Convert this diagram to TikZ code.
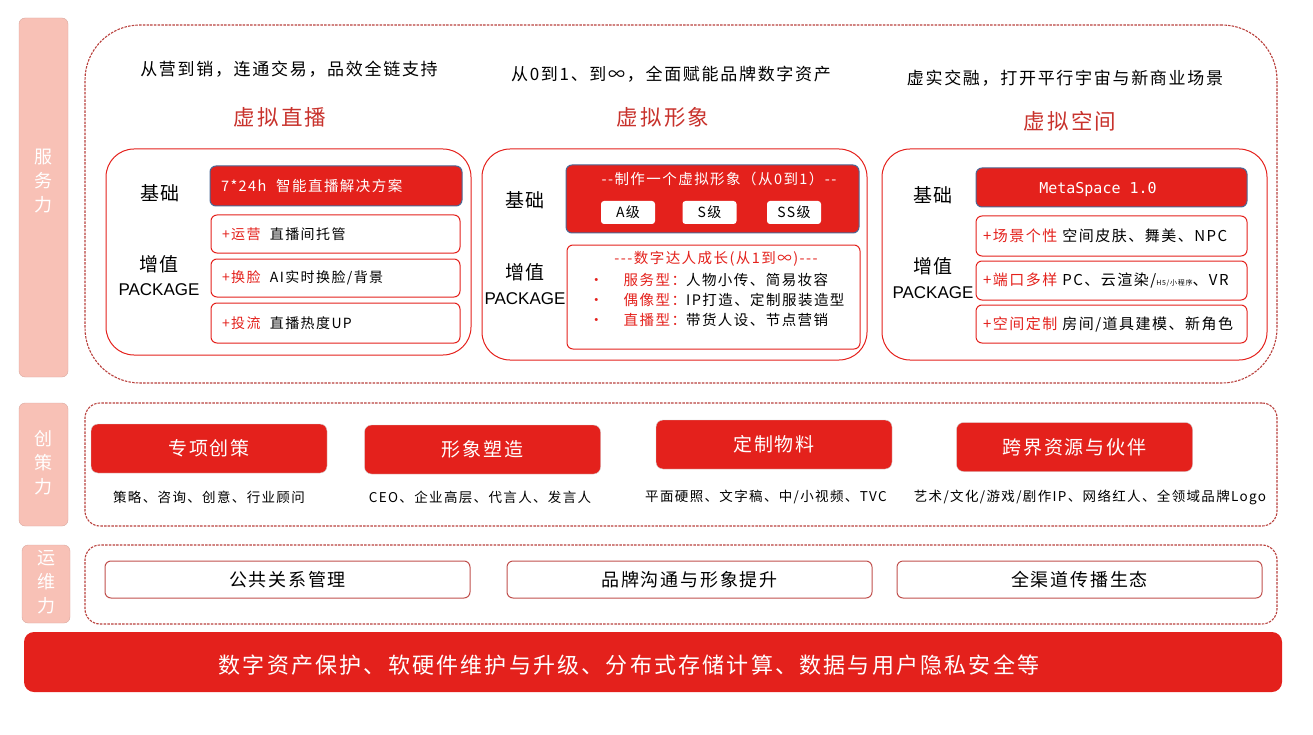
\documentclass[tikz,border=0pt]{standalone}
\usepackage{fontspec}
\setmainfont{Noto Sans CJK SC}[LetterSpace=10]
\setmonofont{DejaVu Sans Mono}
\newfontfamily\latinsans{Liberation Sans}
\usepackage{tikz}
\usetikzlibrary{positioning}
\definecolor{brandred}{HTML}{E4211C}
\definecolor{titlered}{HTML}{C8322C}
\definecolor{dashred}{HTML}{B9413D}
\definecolor{opsedge}{HTML}{C0504D}
\definecolor{sidepink}{HTML}{F8C1B6}
\definecolor{sideedge}{HTML}{D9A9A0}
\definecolor{slateedge}{HTML}{4A6895}
\newcommand{\fsz}[1]{\fontsize{#1}{#1}\selectfont}

\begin{document}
\begin{tikzpicture}[
  x=1pt, y=-1pt,
  every node/.style={inner sep=0pt},
  sidebox/.style={draw=sideedge, fill=sidepink, rounded corners=6pt, minimum width=49pt},
  sidetext/.style={text=white, align=center, font=\fontsize{18}{24}\selectfont},
  zone/.style={draw=dashred, dash pattern=on 2.5pt off 1.2pt, line width=1.1pt, minimum width=1192pt},
  subtitle/.style={font=\fsz{17}},
  heading/.style={font=\fsz{21.5}, text=titlered},
  panel/.style={draw=brandred, line width=1pt, rounded corners=28pt},
  tier/.style={font=\fsz{19}},
  pkg/.style={font=\latinsans\fsz{17}},
  basebox/.style={draw=slateedge, fill=brandred, line width=1pt, rounded corners=6pt, text=white},
  addbox/.style={draw=brandred, fill=white, line width=1pt, rounded corners=6pt, align=left, inner xsep=11pt},
  tag/.style={fill=white, rounded corners=3pt, minimum width=54pt, minimum height=23pt, font=\fsz{14}},
  redbtn/.style={fill=brandred, draw=gray!35, rounded corners=7pt, text=white, font=\fsz{19}, minimum width=236pt, minimum height=49pt},
  caption/.style={font=\fsz{13.5}},
  opsbox/.style={draw=opsedge, line width=1pt, rounded corners=6pt, minimum width=365pt, minimum height=37pt, font=\fsz{18}}
]
\useasboundingbox (0,0) rectangle (1313,735);

\node[sidebox, minimum height=359pt] (servside) at (43.5,197.5) {};
\node[sidetext] (servtext) at (43.5,181) {服\\务\\力};
\node[sidebox, minimum height=123pt] (creside) at (43.5,464.5) {};
\node[sidetext] (cretext) at (43.5,463) {创\\策\\力};
\node[sidebox, minimum width=48pt, minimum height=78pt] (opsside) at (46,584) {};
\node[sidetext] (opstext) at (46,582) {运\\维\\力};

\node[zone, rounded corners=55pt, minimum height=358pt] (servzone) at (681,204) {};
\node[zone, rounded corners=15pt, minimum height=123pt] (crezone) at (681,464.5) {};
\node[zone, rounded corners=15pt, minimum height=79pt] (opszone) at (681,584.5) {};

\node[subtitle] (liveSub) at (289,69) {从营到销，连通交易，品效全链支持};
\node[subtitle] (avatarSub) at (671,74) {从0到1、到∞，全面赋能品牌数字资产};
\node[subtitle] (spaceSub) at (1065,78) {虚实交融，打开平行宇宙与新商业场景};
\node[heading] (liveHead) at (280,117) {虚拟直播};
\node[heading] (avatarHead) at (663,117) {虚拟形象};
\node[heading] (spaceHead) at (1070,121) {虚拟空间};

\node[panel, minimum width=365pt, minimum height=206pt] (livePanel) at (288.5,252) {};
\node[tier] (liveBasic) at (160,193) {基础};
\node[tier] (liveExtra) at (159,264) {增值};
\node[pkg] (livePkg) at (159,290) {PACKAGE};
\node[basebox, inner xsep=11pt, text width=230pt, minimum height=40pt, align=left, font=\fsz{14.5}] (liveBase) at (336,186) {7*24h\ \ 智能直播解决方案};
\node[addbox, text width=227pt, minimum height=38pt, font=\fsz{14}] (liveOp) at (335.5,234) {\textcolor{brandred}{+运营}\ \ 直播间托管};
\node[addbox, text width=227pt, minimum height=38pt, font=\fsz{14}] (liveFace) at (335.5,278) {\textcolor{brandred}{+换脸}\ \ AI实时换脸/背景};
\node[addbox, text width=227pt, minimum height=40pt, font=\fsz{14}] (liveFlow) at (335.5,323) {\textcolor{brandred}{+投流}\ \ 直播热度UP};

\node[panel, minimum width=385pt, minimum height=211pt] (avatarPanel) at (674.5,254.5) {};
\node[tier] (avatarBasic) at (525,200) {基础};
\node[tier] (avatarExtra) at (525,272) {增值};
\node[pkg] (avatarPkg) at (525,299) {PACKAGE};
\node[basebox, minimum width=293pt, minimum height=68pt] (avatarBase) at (712.5,199) {};
\node[text=white, font=\fsz{14.5}] (avatarMake) at (719,179) {{-}{-}制作一个虚拟形象（从0到1）{-}{-}};
\node[tag] (gradeA) at (628,212.5) {A级};
\node[tag] (gradeS) at (709.5,212.5) {S级};
\node[tag] (gradeSS) at (794,212.5) {SS级};
\node[addbox, minimum width=293pt, minimum height=104pt] (avatarGrow) at (713.5,297) {};
\node[text=brandred, font=\fsz{14.5}] (growHead) at (716,259) {{-}{-}{-}数字达人成长(从1到∞){-}{-}{-}};
\node[anchor=west, font=\fsz{14.5}] (growServe) at (589,280) {\textcolor{brandred}{•}\hspace{20pt}\textcolor{brandred}{服务型：}人物小传、简易妆容};
\node[anchor=west, font=\fsz{14.5}] (growIdol) at (589,300) {\textcolor{brandred}{•}\hspace{20pt}\textcolor{brandred}{偶像型：}IP打造、定制服装造型};
\node[anchor=west, font=\fsz{14.5}] (growLive) at (589,320) {\textcolor{brandred}{•}\hspace{20pt}\textcolor{brandred}{直播型：}带货人设、节点营销};

\node[panel, minimum width=385pt, minimum height=211pt] (spacePanel) at (1074.5,254.5) {};
\node[tier] (spaceBasic) at (933,195) {基础};
\node[tier] (spaceExtra) at (933,266) {增值};
\node[pkg] (spacePkg) at (933,293) {PACKAGE};
\node[basebox, minimum width=271pt, minimum height=39pt] (spaceBase) at (1111.5,187.5) {};
\node[text=white, font=\ttfamily\fsz{15}] (spaceMeta) at (1098,189) {MetaSpace 1.0};
\node[addbox, inner xsep=7pt, text width=257pt, minimum height=40pt, font=\fsz{15}] (spaceScene) at (1111.5,236) {\textcolor{brandred}{+场景个性}\ 空间皮肤、舞美、NPC};
\node[addbox, inner xsep=7pt, text width=257pt, minimum height=39pt, font=\fsz{15}] (spacePort) at (1111.5,280.5) {\textcolor{brandred}{+端口多样}\ PC、云渲染/{\fsz{7}H5/小程序}、VR};
\node[addbox, inner xsep=7pt, text width=257pt, minimum height=38pt, font=\fsz{15}] (spaceBuild) at (1111.5,324) {\textcolor{brandred}{+空间定制}\ 房间/道具建模、新角色};

\node[redbtn] (planBtn) at (209,448.5) {专项创策};
\node[redbtn] (imageBtn) at (482.5,449.5) {形象塑造};
\node[redbtn] (mediaBtn) at (774,444.5) {定制物料};
\node[redbtn] (crossBtn) at (1074.5,447) {跨界资源与伙伴};
\node[caption] (planCap) at (209,497) {策略、咨询、创意、行业顾问};
\node[caption] (imageCap) at (480,497) {CEO、企业高层、代言人、发言人};
\node[caption] (mediaCap) at (766,497) {平面硬照、文字稿、中/小视频、TVC};
\node[caption] (crossCap) at (1090,497) {艺术/文化/游戏/剧作IP、网络红人、全领域品牌Logo};

\node[opsbox] (prBox) at (287.5,579.5) {公共关系管理};
\node[opsbox] (brandBox) at (689.5,579.5) {品牌沟通与形象提升};
\node[opsbox] (channelBox) at (1079.5,579.5) {全渠道传播生态};

\node[fill=brandred, rounded corners=10pt, minimum width=1258pt, minimum height=60pt] (baseBar) at (653,662) {};
\node[text=white, font=\fsz{22}] (baseText) at (629,665) {数字资产保护、软硬件维护与升级、分布式存储计算、数据与用户隐私安全等};

\end{tikzpicture}
\end{document}
